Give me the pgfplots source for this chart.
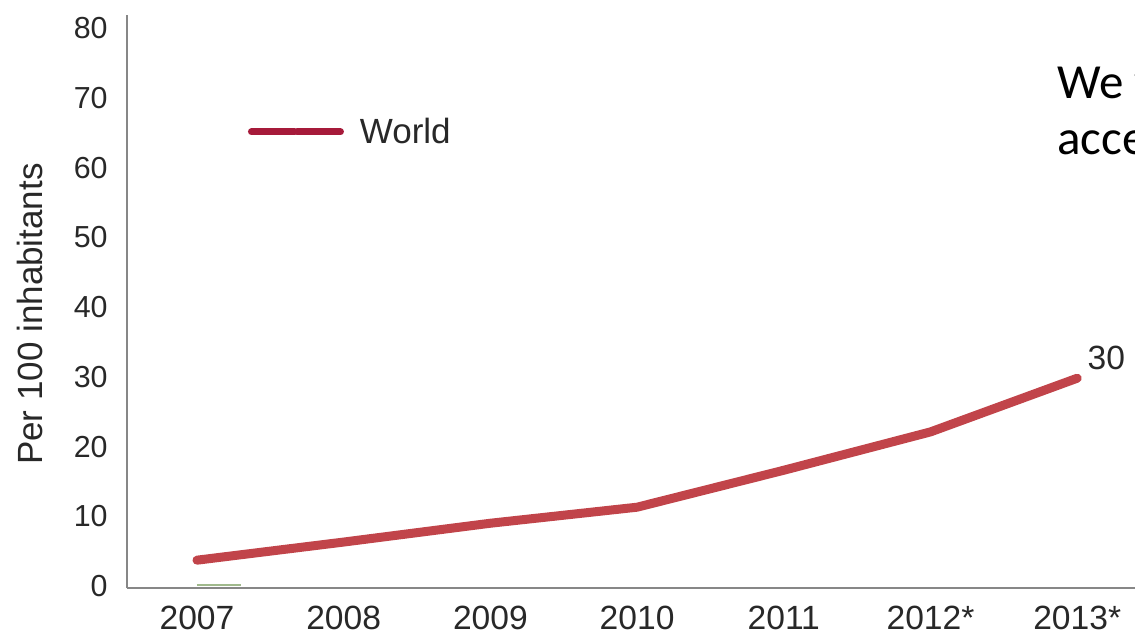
\documentclass[border=0pt]{standalone}
\usepackage{fontspec}
\setmainfont{Liberation Sans}
\newfontfamily\carlito{Carlito}
\usepackage{pgfplots}
\pgfplotsset{compat=1.18}
\definecolor{lineRed}{RGB}{193,68,74}
\definecolor{legRed}{RGB}{166,26,58}
\definecolor{axGray}{RGB}{135,135,135}
\definecolor{txt}{RGB}{40,40,40}
\definecolor{faintGreen}{RGB}{160,185,140}

\begin{document}
\begin{tikzpicture}
\begin{axis}[
  at={(0,0)}, anchor=south west,
  scale only axis, width=504bp, height=286.5bp,
  xmin=-0.477, xmax=6.394, ymin=-0.29, ymax=81.9,
  axis x line*=bottom, axis y line*=left,
  axis line style={axGray, line width=1.2bp, -},
  xtick={0,...,6}, xticklabels={2007,2008,2009,2010,2011,2012*,2013*},
  ytick={0,10,...,80},
  major tick length=0pt,
  tick label style={text=txt},
  /pgf/number format/assume math mode=true,
  xticklabel style={font=\fontsize{16.8bp}{19bp}\selectfont, anchor=center, inner sep=0pt, yshift=-15bp},
  yticklabel style={font=\fontsize{15.2bp}{17bp}\selectfont, anchor=east, inner sep=0pt, xshift=-9.5bp},
  clip=false,
  legend style={at={(axis description cs:0.12,0.796)}, anchor=west, draw=none, fill=none,
    inner sep=0pt, outer sep=0pt, font=\fontsize{17.5bp}{20bp}\selectfont, text=txt,
    /tikz/every odd column/.style={column sep=8bp}, nodes={inner sep=0pt}},
  legend image code/.code={\draw[legRed, line width=3.5bp] (0bp,0bp) -- (21.5bp,0bp); \draw[legRed, line width=3.5bp] (22.8bp,0bp) -- (44.5bp,0bp);},
]
\addplot[lineRed, line width=4.5bp, line cap=round, line join=round]
  coordinates {(0,3.7) (1,6.3) (2,9.0) (3,11.3) (4,16.6) (5,22.1) (6,29.8)};
\addlegendentry{World}
\addplot[faintGreen, line width=1bp, forget plot] coordinates {(0,0.1) (0.3,0.1)};

\node[anchor=south west, inner sep=0pt, font=\fontsize{16.8bp}{19bp}\selectfont, text=txt, xshift=5bp, yshift=4bp] at (axis cs:6,29.8) {30};
\node[rotate=90, anchor=base, inner sep=0pt, font=\fontsize{17.5bp}{20bp}\selectfont, text=txt] at (axis description cs:-0.0843,0.478) {Per 100 inhabitants};
\node[anchor=base west, inner sep=0pt, font=\carlito\fontsize{24.5bp}{28bp}\selectfont] at (axis description cs:0.9226,0.855) {We want};
\node[anchor=base west, inner sep=0pt, font=\carlito\fontsize{24.5bp}{28bp}\selectfont] at (axis description cs:0.9226,0.7557) {access};
\end{axis}
\pgfresetboundingbox
\useasboundingbox (-63.5bp,-23.5bp) rectangle (504bp,294bp);
\end{tikzpicture}
\end{document}
